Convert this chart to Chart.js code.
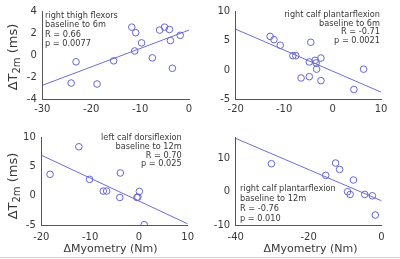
<!DOCTYPE html>
<html><head><meta charset="utf-8">
<script src="https://cdn.jsdelivr.net/npm/chart.js@4"></script>
<style>
html,body{margin:0;padding:0;background:#fff;}
#wrap{position:relative;width:400px;height:259px;overflow:hidden;background:#fff;}
canvas{position:absolute;}
#edge{position:absolute;left:0;top:257px;width:400px;height:1px;background:#bcd5f0;}
</style></head><body>
<div id="wrap">
<canvas id="c1" width="200" height="125" style="left:0;top:0"></canvas>
<canvas id="c2" width="200" height="125" style="left:200px;top:0"></canvas>
<canvas id="c3" width="200" height="134" style="left:0;top:125px"></canvas>
<canvas id="c4" width="200" height="134" style="left:200px;top:125px"></canvas>
<div id="edge"></div>
</div>
<script>
// ---- Panel 1: right thigh flexors, baseline to 6m
const x1 = [-24.1, -23.1, -18.8, -15.4, -11.7, -10.9, -11.1, -9.7, -7.5, -6.0, -5.0, -4.0, -3.8, -3.4, -1.8];
const y1 = [-2.54, -0.6, -2.63, -0.51, 2.57, 2.06, 0.39, 1.13, -0.24, 2.3, 2.57, 2.36, 1.34, -1.19, 1.82];
const fitX1 = [-30, 0];
const fitY1 = [-2.75, 2.3];
const xTicks1 = [-30, -20, -10, 0];
const yTicks1 = [-4, -2, 0, 2, 4];
const label1 = ["right thigh flexors", "baseline to 6m", "R = 0.66", "p = 0.0077"];

// ---- Panel 2: right calf plantarflexion, baseline to 6m
const x2 = [-12.9, -12.1, -10.8, -8.2, -7.6, -4.5, -4.8, -3.6, -3.4, -3.3, -2.4, -6.5, -4.8, -2.4, 4.4, 6.4];
const y2 = [5.75, 5.19, 4.24, 2.45, 2.45, 4.74, 1.38, 1.66, 1.21, 0.15, 2.05, -1.36, -1.14, -1.81, -3.32, 0.15];
const fitX2 = [-20, 10];
const fitY2 = [6.98, -3.77];
const xTicks2 = [-20, -10, 0, 10];
const yTicks2 = [-5, 0, 5, 10];
const label2 = ["right calf plantarflexion", "baseline to 6m", "R = -0.71", "p = 0.0021"];

// ---- Panel 3: left calf dorsiflexion, baseline to 12m
const x3 = [-18.2, -12.3, -10.1, -7.3, -6.6, -3.8, -3.9, -0.4, -0.2, 0.1, 1.1];
const y3 = [3.71, 8.44, 2.84, 0.83, 0.83, 3.94, -0.27, -0.27, -0.2, 0.77, -4.95];
const fitX3 = [-20, 10];
const fitY3 = [7.0, -4.8];
const xTicks3 = [-20, -10, 0, 10];
const yTicks3 = [-5, 0, 5, 10];
const label3 = ["left calf dorsiflexion", "baseline to 12m", "R = 0.70", "p = 0.025"];

// ---- Panel 4: right calf plantarflexion, baseline to 12m
const x4 = [-30.2, -15.3, -12.6, -11.5, -7.7, -9.3, -8.6, -4.6, -2.5, -1.7];
const y4 = [8.3, 4.85, 8.5, 6.6, 3.47, 0, -0.8, -0.8, -1.2, -6.9];
const fitX4 = [-40, 0];
const fitY4 = [15.8, -2.67];
const xTicks4 = [-40, -20, 0];
const yTicks4 = [-10, 0, 10];
const label4 = ["right calf plantarflexion", "baseline to 12m", "R = -0.76", "p = 0.010"];

const xTitle = "\u0394Myometry (Nm)";
const yTitleParts = ["\u0394T", "2m", " (ms)"];

const FONT = '"DejaVu Sans", sans-serif';
const MARK = 'rgb(100,100,212)';
const LINE = 'rgb(108,108,214)';
const AXIS = '#555555';
const TEXT = '#383838';

function pts(xs, ys) { return xs.map((x, i) => ({x: x, y: ys[i]})); }

function makeDecor(cfg) {
  return {
    id: 'decor',
    afterDraw(chart) {
      const ctx = chart.ctx;
      ctx.save();
      ctx.fillStyle = TEXT;
      // annotation
      const a = cfg.ann;
      ctx.font = '8.2px ' + FONT;
      ctx.textAlign = a.align;
      ctx.textBaseline = 'middle';
      a.lines.forEach((t, i) => ctx.fillText(t, a.x, a.y0 + i * a.dy));
      // y title
      if (cfg.ytitle) {
        ctx.save();
        ctx.translate(cfg.ytitle.x, cfg.ytitle.y);
        ctx.rotate(-Math.PI / 2);
        const big = '13px ' + FONT, small = '10px ' + FONT;
        const specs = [[yTitleParts[0], big, 0], [yTitleParts[1], small, 3.5], [yTitleParts[2], big, 0]];
        let total = 0;
        specs.forEach(s => { ctx.font = s[1]; s.push(ctx.measureText(s[0]).width); total += s[3]; });
        let xx = -total / 2;
        ctx.textAlign = 'left';
        ctx.textBaseline = 'middle';
        specs.forEach(s => { ctx.font = s[1]; ctx.fillText(s[0], xx, s[2]); xx += s[3]; });
        ctx.restore();
      }
      if (cfg.xtitle) {
        ctx.font = '11px ' + FONT;
        ctx.textAlign = 'center';
        ctx.textBaseline = 'middle';
        ctx.fillText(xTitle, cfg.xtitle.x, cfg.xtitle.y);
      }
      ctx.restore();
    }
  };
}

function makeChart(id, xs, ys, fx, fy, xt, yt, box, decor) {
  const canvas = document.getElementById(id);
  const W = canvas.width, H = canvas.height;
  new Chart(canvas, {
    type: 'scatter',
    data: {
      datasets: [
        { data: pts(fx, fy), type: 'line', showLine: true, borderColor: LINE, borderWidth: 1,
          pointRadius: 0, fill: false, tension: 0 },
        { data: pts(xs, ys), pointStyle: 'circle', pointRadius: 3.3, pointBorderWidth: 1,
          pointBorderColor: MARK, pointBackgroundColor: 'rgba(0,0,0,0)', borderColor: MARK,
          backgroundColor: 'rgba(0,0,0,0)', pointHoverRadius: 3.3 }
      ]
    },
    options: {
      responsive: false, animation: false, devicePixelRatio: 1,
      layout: { padding: { left: 0, top: box.top, right: W - box.right, bottom: 0 } },
      plugins: { legend: { display: false }, tooltip: { enabled: false } },
      scales: {
        x: {
          type: 'linear', min: xt[0], max: xt[xt.length - 1],
          afterBuildTicks: s => { s.ticks = xt.map(v => ({value: v})); },
          afterFit: s => { s.height = H - box.bottom; },
          grid: { display: false, drawTicks: false },
          border: { display: true, color: AXIS, width: 1 },
          ticks: { font: { family: FONT, size: 10 }, color: TEXT, padding: box.xpad, maxRotation: 0, autoSkip: false }
        },
        y: {
          type: 'linear', min: box.ymin, max: box.ymax,
          afterBuildTicks: s => { s.ticks = yt.map(v => ({value: v})); },
          afterFit: s => { s.width = box.left; },
          grid: { display: false, drawTicks: false },
          border: { display: true, color: AXIS, width: 1 },
          ticks: { font: { family: FONT, size: 10 }, color: TEXT, padding: 5.5, autoSkip: false }
        }
      }
    },
    plugins: [makeDecor(decor)]
  });
}

makeChart('c1', x1, y1, fitX1, fitY1, xTicks1, yTicks1,
  { left: 42.3, right: 189, top: 11, bottom: 99, ymin: -4, ymax: 4, xpad: 4 },
  { ann: { lines: label1, x: 45, y0: 16, dy: 9.3, align: 'left' }, ytitle: { x: 14, y: 57 } });
makeChart('c2', x2, y2, fitX2, fitY2, xTicks2, yTicks2,
  { left: 35.7, right: 181, top: 10, bottom: 99.3, ymin: -5, ymax: 10, xpad: 4 },
  { ann: { lines: label2, x: 180, y0: 15.3, dy: 8.5, align: 'right' } });
makeChart('c3', x3, y3, fitX3, fitY3, xTicks3, yTicks3,
  { left: 41.3, right: 188.3, top: 12.7, bottom: 100, ymin: -5, ymax: 10, xpad: 6 },
  { ann: { lines: label3, x: 181.7, y0: 13, dy: 8.7, align: 'right' }, ytitle: { x: 13.5, y: 61 }, xtitle: { x: 110.5, y: 124 } });
makeChart('c4', x4, y4, fitX4, fitY4, xTicks4, yTicks4,
  { left: 35.7, right: 181.5, top: 12.7, bottom: 100.5, ymin: -10, ymax: 16, xpad: 6 },
  { ann: { lines: label4, x: 40, y0: 64.3, dy: 9.7, align: 'left' }, xtitle: { x: 110.5, y: 124 } });
</script>
</body></html>
